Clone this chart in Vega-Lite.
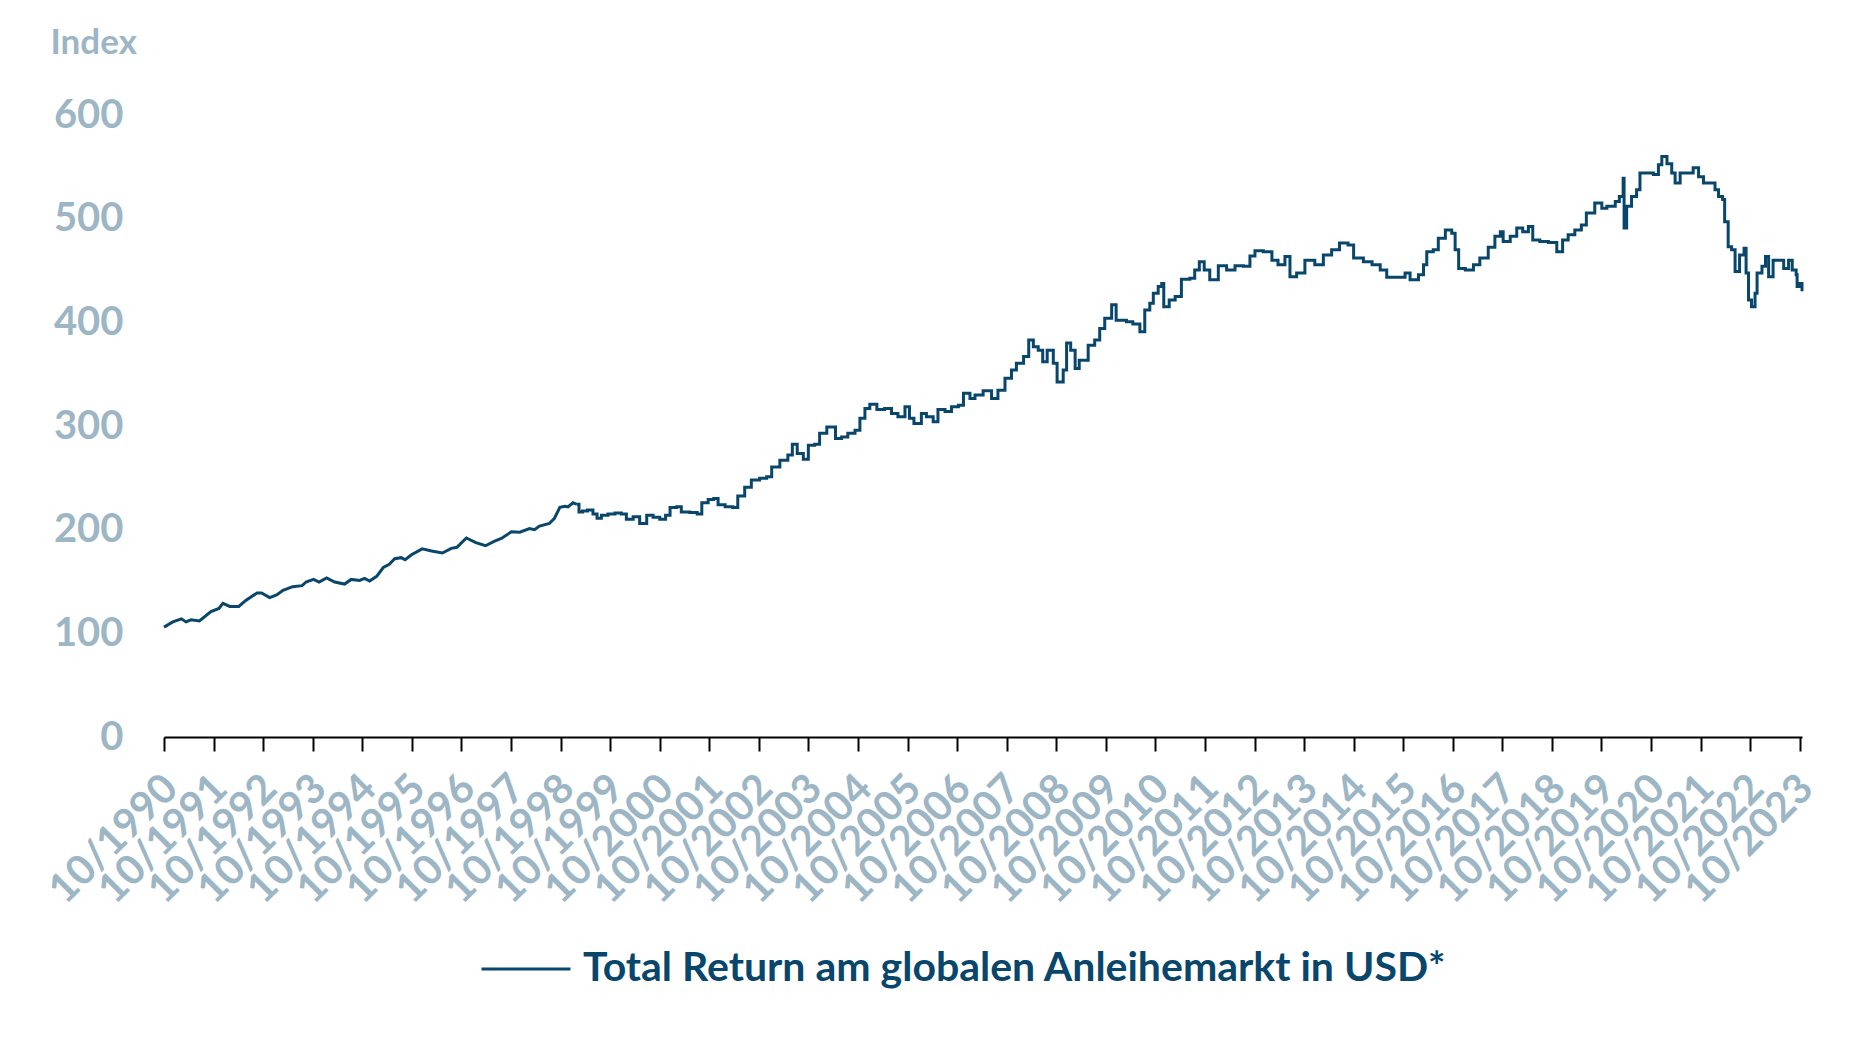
{
  "$schema": "https://vega.github.io/schema/vega-lite/v6.json",
  "autosize": {"type": "none"},
  "padding": {"left": 164, "top": 115, "right": 64, "bottom": 302},
  "width": 1638,
  "height": 622,
  "background": "white",
  "config": {"view": {"stroke": null}},
  "data": {"values": [
    {"d": "1990-10-01", "v": 106, "s": "a"},
    {"d": "1990-12-05", "v": 111, "s": "a"},
    {"d": "1991-02-06", "v": 114, "s": "a"},
    {"d": "1991-03-12", "v": 111, "s": "a"},
    {"d": "1991-04-18", "v": 113, "s": "a"},
    {"d": "1991-06-19", "v": 112, "s": "a"},
    {"d": "1991-09-12", "v": 121, "s": "a"},
    {"d": "1991-11-10", "v": 124, "s": "a"},
    {"d": "1991-12-09", "v": 129, "s": "a"},
    {"d": "1992-01-29", "v": 126, "s": "a"},
    {"d": "1992-04-04", "v": 126, "s": "a"},
    {"d": "1992-05-28", "v": 132, "s": "a"},
    {"d": "1992-08-17", "v": 139, "s": "a"},
    {"d": "1992-09-19", "v": 139, "s": "a"},
    {"d": "1992-11-17", "v": 134.5, "s": "a"},
    {"d": "1993-01-08", "v": 137, "s": "a"},
    {"d": "1993-02-24", "v": 141.5, "s": "a"},
    {"d": "1993-05-06", "v": 145, "s": "a"},
    {"d": "1993-07-15", "v": 146, "s": "a"},
    {"d": "1993-08-13", "v": 149.5, "s": "a"},
    {"d": "1993-10-07", "v": 152, "s": "a"},
    {"d": "1993-11-17", "v": 149.5, "s": "a"},
    {"d": "1994-01-11", "v": 153.5, "s": "a"},
    {"d": "1994-03-12", "v": 149.5, "s": "a"},
    {"d": "1994-05-24", "v": 147.5, "s": "a"},
    {"d": "1994-07-11", "v": 152, "s": "a"},
    {"d": "1994-09-12", "v": 151, "s": "a"},
    {"d": "1994-10-18", "v": 153, "s": "a"},
    {"d": "1994-11-24", "v": 150.5, "s": "a"},
    {"d": "1995-01-15", "v": 155, "s": "a"},
    {"d": "1995-03-05", "v": 163.5, "s": "a"},
    {"d": "1995-04-18", "v": 166.5, "s": "a"},
    {"d": "1995-05-28", "v": 172, "s": "a"},
    {"d": "1995-07-15", "v": 173, "s": "a"},
    {"d": "1995-08-13", "v": 171, "s": "a"},
    {"d": "1995-09-26", "v": 175.5, "s": "a"},
    {"d": "1995-12-16", "v": 181.5, "s": "a"},
    {"d": "1996-02-24", "v": 179.5, "s": "a"},
    {"d": "1996-05-13", "v": 177.5, "s": "a"},
    {"d": "1996-07-18", "v": 182, "s": "a"},
    {"d": "1996-08-28", "v": 183, "s": "a"},
    {"d": "1996-11-06", "v": 192, "s": "a"},
    {"d": "1997-01-15", "v": 187.5, "s": "a"},
    {"d": "1997-03-27", "v": 184.5, "s": "a"},
    {"d": "1997-06-02", "v": 189, "s": "a"},
    {"d": "1997-07-22", "v": 191.5, "s": "a"},
    {"d": "1997-10-04", "v": 198, "s": "a"},
    {"d": "1997-12-05", "v": 197.5, "s": "a"},
    {"d": "1998-02-14", "v": 201, "s": "a"},
    {"d": "1998-03-23", "v": 200, "s": "a"},
    {"d": "1998-04-29", "v": 203.5, "s": "a"},
    {"d": "1998-07-11", "v": 206, "s": "a"},
    {"d": "1998-08-17", "v": 211, "s": "a"},
    {"d": "1998-09-26", "v": 221.5, "s": "a"},
    {"d": "1998-11-03", "v": 222.5, "s": "a"},
    {"d": "1998-11-24", "v": 222, "s": "a"},
    {"d": "1999-01-01", "v": 226, "s": "a"},
    {"d": "1999-01-29", "v": 224.5, "s": "a"},
    {"d": "1999-01-29", "v": 224.5, "s": "b"},
    {"d": "1999-02-14", "v": 217, "s": "b"},
    {"d": "1999-03-12", "v": 218, "s": "b"},
    {"d": "1999-04-18", "v": 219, "s": "b"},
    {"d": "1999-05-28", "v": 215, "s": "b"},
    {"d": "1999-06-27", "v": 211, "s": "b"},
    {"d": "1999-07-29", "v": 214, "s": "b"},
    {"d": "1999-09-16", "v": 215, "s": "b"},
    {"d": "1999-11-06", "v": 216, "s": "b"},
    {"d": "1999-12-23", "v": 215, "s": "b"},
    {"d": "2000-01-29", "v": 210, "s": "b"},
    {"d": "2000-03-19", "v": 212.5, "s": "b"},
    {"d": "2000-05-06", "v": 206, "s": "b"},
    {"d": "2000-06-27", "v": 214, "s": "b"},
    {"d": "2000-08-13", "v": 212, "s": "b"},
    {"d": "2000-10-01", "v": 210, "s": "b"},
    {"d": "2000-11-13", "v": 214, "s": "b"},
    {"d": "2000-12-16", "v": 221.5, "s": "b"},
    {"d": "2001-02-03", "v": 222, "s": "b"},
    {"d": "2001-03-09", "v": 217, "s": "b"},
    {"d": "2001-05-10", "v": 216.5, "s": "b"},
    {"d": "2001-07-04", "v": 215, "s": "b"},
    {"d": "2001-08-07", "v": 226, "s": "b"},
    {"d": "2001-09-23", "v": 229, "s": "b"},
    {"d": "2001-11-03", "v": 230, "s": "b"},
    {"d": "2001-12-05", "v": 224, "s": "b"},
    {"d": "2002-01-26", "v": 222, "s": "b"},
    {"d": "2002-03-23", "v": 221.5, "s": "b"},
    {"d": "2002-04-29", "v": 232.5, "s": "b"},
    {"d": "2002-06-19", "v": 241, "s": "b"},
    {"d": "2002-08-07", "v": 248, "s": "b"},
    {"d": "2002-10-07", "v": 249.5, "s": "b"},
    {"d": "2002-11-28", "v": 251, "s": "b"},
    {"d": "2003-01-04", "v": 260.5, "s": "b"},
    {"d": "2003-03-05", "v": 267, "s": "b"},
    {"d": "2003-05-03", "v": 272, "s": "b"},
    {"d": "2003-06-05", "v": 282.5, "s": "b"},
    {"d": "2003-07-11", "v": 273.5, "s": "b"},
    {"d": "2003-08-25", "v": 268, "s": "b"},
    {"d": "2003-10-01", "v": 281.5, "s": "b"},
    {"d": "2003-11-17", "v": 282.5, "s": "b"},
    {"d": "2003-12-23", "v": 293, "s": "b"},
    {"d": "2004-02-14", "v": 299, "s": "b"},
    {"d": "2004-03-12", "v": 299, "s": "b"},
    {"d": "2004-04-18", "v": 288, "s": "b"},
    {"d": "2004-06-02", "v": 289.5, "s": "b"},
    {"d": "2004-07-18", "v": 293, "s": "b"},
    {"d": "2004-09-09", "v": 296, "s": "b"},
    {"d": "2004-10-15", "v": 307.5, "s": "b"},
    {"d": "2004-11-21", "v": 317, "s": "b"},
    {"d": "2004-12-27", "v": 321, "s": "b"},
    {"d": "2005-02-17", "v": 316, "s": "b"},
    {"d": "2005-04-15", "v": 317, "s": "b"},
    {"d": "2005-06-05", "v": 312, "s": "b"},
    {"d": "2005-07-22", "v": 309, "s": "b"},
    {"d": "2005-09-12", "v": 318.5, "s": "b"},
    {"d": "2005-10-15", "v": 307.5, "s": "b"},
    {"d": "2005-11-17", "v": 302.5, "s": "b"},
    {"d": "2006-01-11", "v": 312, "s": "b"},
    {"d": "2006-02-17", "v": 309, "s": "b"},
    {"d": "2006-04-08", "v": 304, "s": "b"},
    {"d": "2006-05-13", "v": 316, "s": "b"},
    {"d": "2006-07-04", "v": 314, "s": "b"},
    {"d": "2006-08-21", "v": 318.5, "s": "b"},
    {"d": "2006-10-11", "v": 320, "s": "b"},
    {"d": "2006-11-17", "v": 331.5, "s": "b"},
    {"d": "2007-01-04", "v": 326.5, "s": "b"},
    {"d": "2007-02-10", "v": 330, "s": "b"},
    {"d": "2007-04-11", "v": 334, "s": "b"},
    {"d": "2007-06-12", "v": 326.5, "s": "b"},
    {"d": "2007-07-29", "v": 334.5, "s": "b"},
    {"d": "2007-09-19", "v": 346, "s": "b"},
    {"d": "2007-11-06", "v": 354, "s": "b"},
    {"d": "2007-12-12", "v": 360.5, "s": "b"},
    {"d": "2008-02-03", "v": 367, "s": "b"},
    {"d": "2008-03-12", "v": 383, "s": "b"},
    {"d": "2008-04-15", "v": 376.5, "s": "b"},
    {"d": "2008-05-21", "v": 373, "s": "b"},
    {"d": "2008-06-23", "v": 362, "s": "b"},
    {"d": "2008-07-26", "v": 373, "s": "b"},
    {"d": "2008-09-09", "v": 360.5, "s": "b"},
    {"d": "2008-10-07", "v": 342.5, "s": "b"},
    {"d": "2008-11-21", "v": 354, "s": "b"},
    {"d": "2008-12-16", "v": 380, "s": "b"},
    {"d": "2009-01-15", "v": 373, "s": "b"},
    {"d": "2009-02-17", "v": 355.5, "s": "b"},
    {"d": "2009-03-19", "v": 363.5, "s": "b"},
    {"d": "2009-04-29", "v": 363.5, "s": "b"},
    {"d": "2009-05-24", "v": 378, "s": "b"},
    {"d": "2009-07-11", "v": 383, "s": "b"},
    {"d": "2009-08-17", "v": 394, "s": "b"},
    {"d": "2009-09-23", "v": 404, "s": "b"},
    {"d": "2009-11-13", "v": 417, "s": "b"},
    {"d": "2009-12-16", "v": 402, "s": "b"},
    {"d": "2010-01-26", "v": 402, "s": "b"},
    {"d": "2010-03-02", "v": 400.5, "s": "b"},
    {"d": "2010-04-18", "v": 398.5, "s": "b"},
    {"d": "2010-06-09", "v": 391, "s": "b"},
    {"d": "2010-07-15", "v": 412, "s": "b"},
    {"d": "2010-08-21", "v": 418.5, "s": "b"},
    {"d": "2010-09-16", "v": 428, "s": "b"},
    {"d": "2010-10-22", "v": 434.5, "s": "b"},
    {"d": "2010-11-17", "v": 437.5, "s": "b"},
    {"d": "2010-12-02", "v": 415, "s": "b"},
    {"d": "2011-01-11", "v": 421.5, "s": "b"},
    {"d": "2011-02-24", "v": 425, "s": "b"},
    {"d": "2011-04-11", "v": 441.5, "s": "b"},
    {"d": "2011-06-12", "v": 442.5, "s": "b"},
    {"d": "2011-07-18", "v": 450.5, "s": "b"},
    {"d": "2011-08-21", "v": 458.5, "s": "b"},
    {"d": "2011-09-26", "v": 450.5, "s": "b"},
    {"d": "2011-11-06", "v": 441, "s": "b"},
    {"d": "2012-01-08", "v": 454.5, "s": "b"},
    {"d": "2012-03-09", "v": 450.5, "s": "b"},
    {"d": "2012-05-10", "v": 454.5, "s": "b"},
    {"d": "2012-07-11", "v": 454, "s": "b"},
    {"d": "2012-08-28", "v": 464, "s": "b"},
    {"d": "2012-10-04", "v": 469, "s": "b"},
    {"d": "2012-12-05", "v": 468, "s": "b"},
    {"d": "2013-02-06", "v": 460, "s": "b"},
    {"d": "2013-03-23", "v": 455.5, "s": "b"},
    {"d": "2013-05-13", "v": 463.5, "s": "b"},
    {"d": "2013-06-19", "v": 444, "s": "b"},
    {"d": "2013-08-07", "v": 447.5, "s": "b"},
    {"d": "2013-10-07", "v": 460, "s": "b"},
    {"d": "2013-12-19", "v": 455.5, "s": "b"},
    {"d": "2014-02-20", "v": 465, "s": "b"},
    {"d": "2014-04-22", "v": 470, "s": "b"},
    {"d": "2014-06-19", "v": 476.5, "s": "b"},
    {"d": "2014-08-21", "v": 474.5, "s": "b"},
    {"d": "2014-10-01", "v": 462, "s": "b"},
    {"d": "2014-12-12", "v": 458.5, "s": "b"},
    {"d": "2015-02-14", "v": 455.5, "s": "b"},
    {"d": "2015-04-15", "v": 450.5, "s": "b"},
    {"d": "2015-06-02", "v": 443.5, "s": "b"},
    {"d": "2015-08-13", "v": 443.5, "s": "b"},
    {"d": "2015-10-15", "v": 447.5, "s": "b"},
    {"d": "2015-11-21", "v": 441, "s": "b"},
    {"d": "2016-01-22", "v": 446, "s": "b"},
    {"d": "2016-02-28", "v": 455.5, "s": "b"},
    {"d": "2016-03-23", "v": 468, "s": "b"},
    {"d": "2016-05-10", "v": 470, "s": "b"},
    {"d": "2016-06-16", "v": 481, "s": "b"},
    {"d": "2016-08-07", "v": 489, "s": "b"},
    {"d": "2016-09-23", "v": 486, "s": "b"},
    {"d": "2016-10-18", "v": 470, "s": "b"},
    {"d": "2016-11-13", "v": 452, "s": "b"},
    {"d": "2017-01-01", "v": 450.5, "s": "b"},
    {"d": "2017-03-02", "v": 455.5, "s": "b"},
    {"d": "2017-04-18", "v": 462, "s": "b"},
    {"d": "2017-06-19", "v": 472.5, "s": "b"},
    {"d": "2017-08-07", "v": 483, "s": "b"},
    {"d": "2017-09-16", "v": 487.5, "s": "b"},
    {"d": "2017-10-07", "v": 478, "s": "b"},
    {"d": "2017-11-28", "v": 483, "s": "b"},
    {"d": "2018-01-15", "v": 491, "s": "b"},
    {"d": "2018-02-28", "v": 487.5, "s": "b"},
    {"d": "2018-04-11", "v": 492.5, "s": "b"},
    {"d": "2018-05-13", "v": 479.5, "s": "b"},
    {"d": "2018-07-04", "v": 478, "s": "b"},
    {"d": "2018-09-05", "v": 477, "s": "b"},
    {"d": "2018-11-06", "v": 468, "s": "b"},
    {"d": "2018-12-19", "v": 479.5, "s": "b"},
    {"d": "2019-01-29", "v": 484.5, "s": "b"},
    {"d": "2019-03-19", "v": 489, "s": "b"},
    {"d": "2019-05-06", "v": 494, "s": "b"},
    {"d": "2019-06-12", "v": 505.5, "s": "b"},
    {"d": "2019-08-13", "v": 515, "s": "b"},
    {"d": "2019-10-04", "v": 510, "s": "b"},
    {"d": "2019-11-10", "v": 512, "s": "b"},
    {"d": "2020-01-11", "v": 516.5, "s": "b"},
    {"d": "2020-02-10", "v": 521.5, "s": "b"},
    {"d": "2020-03-09", "v": 539, "s": "b"},
    {"d": "2020-03-16", "v": 491, "s": "b"},
    {"d": "2020-04-04", "v": 512, "s": "b"},
    {"d": "2020-05-10", "v": 521.5, "s": "b"},
    {"d": "2020-06-16", "v": 528, "s": "b"},
    {"d": "2020-07-11", "v": 544, "s": "b"},
    {"d": "2020-09-01", "v": 544, "s": "b"},
    {"d": "2020-10-18", "v": 542.5, "s": "b"},
    {"d": "2020-11-24", "v": 552, "s": "b"},
    {"d": "2020-12-19", "v": 560, "s": "b"},
    {"d": "2021-01-26", "v": 553, "s": "b"},
    {"d": "2021-03-02", "v": 544, "s": "b"},
    {"d": "2021-03-27", "v": 534.5, "s": "b"},
    {"d": "2021-05-03", "v": 544, "s": "b"},
    {"d": "2021-06-19", "v": 544, "s": "b"},
    {"d": "2021-08-07", "v": 549, "s": "b"},
    {"d": "2021-09-16", "v": 540.5, "s": "b"},
    {"d": "2021-10-22", "v": 534.5, "s": "b"},
    {"d": "2021-12-09", "v": 534.5, "s": "b"},
    {"d": "2022-01-15", "v": 528, "s": "b"},
    {"d": "2022-02-10", "v": 521.5, "s": "b"},
    {"d": "2022-03-12", "v": 518.5, "s": "b"},
    {"d": "2022-03-27", "v": 497, "s": "b"},
    {"d": "2022-04-22", "v": 473, "s": "b"},
    {"d": "2022-05-17", "v": 470, "s": "b"},
    {"d": "2022-06-12", "v": 449, "s": "b"},
    {"d": "2022-07-15", "v": 465, "s": "b"},
    {"d": "2022-08-17", "v": 471.5, "s": "b"},
    {"d": "2022-09-01", "v": 447.5, "s": "b"},
    {"d": "2022-09-19", "v": 421.5, "s": "b"},
    {"d": "2022-10-11", "v": 415, "s": "b"},
    {"d": "2022-11-06", "v": 428, "s": "b"},
    {"d": "2022-11-21", "v": 447.5, "s": "b"},
    {"d": "2022-12-27", "v": 454, "s": "b"},
    {"d": "2023-01-22", "v": 463.5, "s": "b"},
    {"d": "2023-02-14", "v": 444, "s": "b"},
    {"d": "2023-03-19", "v": 460, "s": "b"},
    {"d": "2023-04-26", "v": 460, "s": "b"},
    {"d": "2023-06-05", "v": 452, "s": "b"},
    {"d": "2023-07-11", "v": 460, "s": "b"},
    {"d": "2023-08-07", "v": 450.5, "s": "b"},
    {"d": "2023-09-05", "v": 446, "s": "b"},
    {"d": "2023-09-12", "v": 434.5, "s": "b"},
    {"d": "2023-10-04", "v": 437.5, "s": "b"},
    {"d": "2023-10-18", "v": 430, "s": "b"}
  ]},
  "encoding": {
    "x": {
      "field": "d", "type": "temporal",
      "scale": {"type": "utc", "domain": [{"year": 1990, "month": 10, "date": 1, "utc": true}, {"year": 2023, "month": 10, "date": 18, "utc": true}]},
      "axis": {
        "title": null,
        "format": "%m/%Y",
        "values": [
          {"year": 1990, "month": 10, "date": 1, "utc": true},
          {"year": 1991, "month": 10, "date": 1, "utc": true},
          {"year": 1992, "month": 10, "date": 1, "utc": true},
          {"year": 1993, "month": 10, "date": 1, "utc": true},
          {"year": 1994, "month": 10, "date": 1, "utc": true},
          {"year": 1995, "month": 10, "date": 1, "utc": true},
          {"year": 1996, "month": 10, "date": 1, "utc": true},
          {"year": 1997, "month": 10, "date": 1, "utc": true},
          {"year": 1998, "month": 10, "date": 1, "utc": true},
          {"year": 1999, "month": 10, "date": 1, "utc": true},
          {"year": 2000, "month": 10, "date": 1, "utc": true},
          {"year": 2001, "month": 10, "date": 1, "utc": true},
          {"year": 2002, "month": 10, "date": 1, "utc": true},
          {"year": 2003, "month": 10, "date": 1, "utc": true},
          {"year": 2004, "month": 10, "date": 1, "utc": true},
          {"year": 2005, "month": 10, "date": 1, "utc": true},
          {"year": 2006, "month": 10, "date": 1, "utc": true},
          {"year": 2007, "month": 10, "date": 1, "utc": true},
          {"year": 2008, "month": 10, "date": 1, "utc": true},
          {"year": 2009, "month": 10, "date": 1, "utc": true},
          {"year": 2010, "month": 10, "date": 1, "utc": true},
          {"year": 2011, "month": 10, "date": 1, "utc": true},
          {"year": 2012, "month": 10, "date": 1, "utc": true},
          {"year": 2013, "month": 10, "date": 1, "utc": true},
          {"year": 2014, "month": 10, "date": 1, "utc": true},
          {"year": 2015, "month": 10, "date": 1, "utc": true},
          {"year": 2016, "month": 10, "date": 1, "utc": true},
          {"year": 2017, "month": 10, "date": 1, "utc": true},
          {"year": 2018, "month": 10, "date": 1, "utc": true},
          {"year": 2019, "month": 10, "date": 1, "utc": true},
          {"year": 2020, "month": 10, "date": 1, "utc": true},
          {"year": 2021, "month": 10, "date": 1, "utc": true},
          {"year": 2022, "month": 10, "date": 1, "utc": true},
          {"year": 2023, "month": 10, "date": 1, "utc": true}
        ],
        "grid": false,
        "domainColor": "#000000",
        "domainWidth": 2,
        "tickColor": "#000000",
        "tickWidth": 2,
        "tickSize": 14,
        "labelAngle": -45,
        "labelAlign": "right",
        "labelBaseline": "middle",
        "labelPadding": 31,
        "labelOffset": 7,
        "labelFont": "Lato",
        "labelFontWeight": "bold",
        "labelFontSize": 41,
        "labelColor": "#9db6c5",
        "labelOverlap": false,
        "labelBound": false,
        "labelFlush": false
      }
    },
    "y": {
      "field": "v", "type": "quantitative",
      "scale": {"domain": [0, 600], "nice": false, "zero": true},
      "axis": {
        "title": "Index",
        "titleAngle": 0,
        "titleAlign": "left",
        "titleBaseline": "alphabetic",
        "titleX": -114,
        "titleY": -62,
        "titleFont": "Lato",
        "titleFontWeight": "bold",
        "titleFontSize": 35,
        "titleColor": "#9db6c5",
        "values": [0, 100, 200, 300, 400, 500, 600],
        "grid": false,
        "domain": false,
        "ticks": false,
        "labelPadding": 41,
        "labelFont": "Lato",
        "labelFontWeight": "bold",
        "labelFontSize": 40,
        "labelColor": "#9db6c5"
      }
    },
    "color": {
      "datum": "Total Return am globalen Anleihemarkt in USD*",
      "type": "nominal",
      "scale": {"range": ["#08466c"]},
      "legend": {
        "title": null,
        "orient": "none",
        "legendX": 316,
        "legendY": 808,
        "symbolType": "stroke",
        "symbolSize": 7921,
        "symbolStrokeWidth": 3,
        "labelOffset": 11,
        "labelFont": "Lato",
        "labelFontWeight": "bold",
        "labelFontSize": 41,
        "labelColor": "#08466c",
        "labelLimit": 2000
      }
    }
  },
  "layer": [
    {
      "transform": [{"filter": "datum.s === 'a'"}],
      "mark": {"type": "line", "strokeWidth": 3, "interpolate": "linear"}
    },
    {
      "transform": [{"filter": "datum.s === 'b'"}],
      "mark": {"type": "line", "strokeWidth": 3, "interpolate": "step-after"}
    }
  ]
}
